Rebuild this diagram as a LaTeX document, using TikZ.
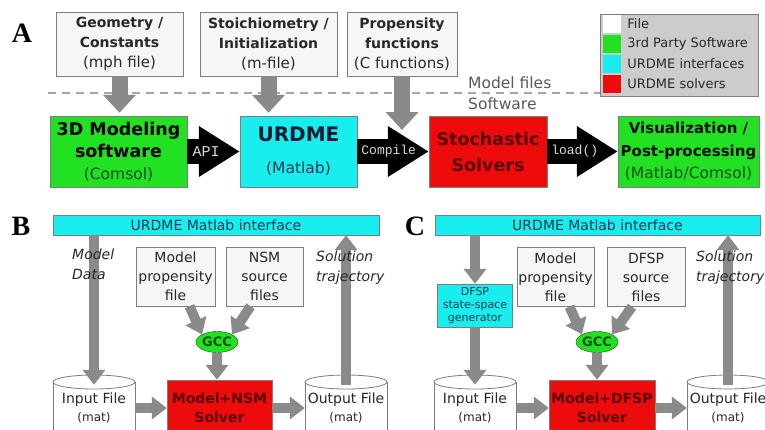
\documentclass[tikz,border=0pt]{standalone}
\usepackage{fontspec}
\setmainfont{DejaVu Sans}
\setmonofont{Liberation Mono}
\newfontfamily\panelfont{Liberation Serif}
\usepackage{tikz}
\usetikzlibrary{arrows.meta, positioning, shapes.geometric}
\usepackage{xcolor}

\definecolor{filefill}{RGB}{246,246,246}
\definecolor{boxline}{RGB}{125,125,125}
\definecolor{tpgreen}{RGB}{34,224,34}
\definecolor{urcyan}{RGB}{24,238,238}
\definecolor{urred}{RGB}{236,12,12}
\definecolor{arrgray}{RGB}{138,138,138}
\definecolor{keygray}{RGB}{204,204,204}
\definecolor{dkgreen}{RGB}{16,80,16}
\definecolor{dkteal}{RGB}{10,60,80}
\definecolor{dknavy}{RGB}{0,25,50}
\definecolor{dkred}{RGB}{90,0,0}
\definecolor{txtgray}{RGB}{40,40,40}

\newcommand{\fsz}[2]{\fontsize{#1}{#2}\selectfont}

\begin{document}
\begin{tikzpicture}[
    x=1pt, y=-1pt,
    filebox/.style={draw=boxline, fill=filefill, align=center, inner sep=0pt, text=txtgray, font=\fsz{14}{20}},
    gbox/.style={draw=boxline, fill=tpgreen, align=center, inner sep=0pt},
    cbox/.style={draw=boxline, fill=urcyan, align=center, inner sep=0pt},
    rbox/.style={draw=boxline, fill=urred, align=center, inner sep=0pt},
    fatarrow/.style={draw=arrgray, line width=16pt, -{Triangle[length=18pt,width=32pt]}},
    blkarrow/.style={draw=black, line width=25pt, -{Triangle[length=41pt,width=48pt]}},
    medarrow/.style={draw=arrgray, line width=10pt, -{Triangle[length=15pt,width=22pt]}},
    cmdtxt/.style={text=white!85!black, font=\ttfamily\fsz{13}{13}, inner sep=0pt},
    sidetxt/.style={text=black!65, font=\fsz{15.5}{18}, inner sep=0pt},
    keysq/.style={fill=#1, minimum size=18pt, inner sep=0pt},
    keytxt/.style={text=txtgray, font=\fsz{13}{16}, inner sep=0pt},
    cylline/.style={draw=boxline, fill=white, line width=0.8pt},
    cyltxt/.style={align=center, text=txtgray, font=\fsz{14}{18}, minimum width=82pt, minimum height=46pt, inner sep=0pt},
    note/.style={align=left, text=txtgray, font=\fsz{14}{20}\itshape, inner sep=0pt, anchor=north west},
    panel/.style={font=\panelfont\bfseries\fsz{28}{28}, inner sep=0pt},
    gccnode/.style={ellipse, draw=dkgreen, fill=tpgreen, minimum width=40pt, minimum height=21pt, inner sep=0pt, font=\bfseries\fsz{13}{13}, text=dkgreen}
]

\useasboundingbox (0,0) rectangle (765,429);
\clip (0,0) rectangle (765,429);

% ---------------- A ----------------
\node[panel] (labA) at (22,33) {A};

\draw[dashed, draw=black!35, line width=1.6pt, dash pattern=on 8pt off 6pt] (48,93) -- (600,93);
\node[sidetxt, anchor=west] (mfiles) at (468,83) {Model files};
\node[sidetxt, anchor=west] (swlbl) at (468,104) {Software};

% file boxes
\node[filebox, minimum width=127pt, minimum height=64pt] (geom) at (119.5,44) {\textbf{Geometry /}\\\textbf{Constants}\\{\fsz{15}{20}(mph file)}};
\node[filebox, minimum width=137pt, minimum height=64pt] (stoich) at (268.5,44) {\textbf{Stoichiometry /}\\\textbf{Initialization}\\{\fsz{15}{20}(m-file)}};
\node[filebox, minimum width=110pt, minimum height=64pt] (prop) at (402,44) {\textbf{Propensity}\\\textbf{functions}\\{\fsz{15}{20}(C functions)}};

% software boxes
\node[gbox, minimum width=137pt, minimum height=71pt, font=\fsz{17.5}{22}, text=black] (model3d) at (118.5,151.5) {\textbf{3D Modeling}\\\textbf{software}\\{\color{dkgreen}\fsz{15.5}{22}(Comsol)}};
\node[cbox, minimum width=117pt, minimum height=71pt, font=\fsz{20}{32}, text=dknavy] (urdme) at (298.5,151.5) {\textbf{URDME}\\{\color{dkteal}\fsz{15.5}{32}(Matlab)}};
\node[rbox, minimum width=118pt, minimum height=71pt, font=\bfseries\fsz{17.5}{26}, text=dkred] (solvers) at (488,151.5) {Stochastic\\Solvers};
\node[gbox, minimum width=141pt, minimum height=71pt, font=\fsz{15}{22.5}, text=black!85!dkgreen] (vis) at (688.5,151.5) {\textbf{Visualization /}\\\textbf{Post-processing}\\{\color{dkgreen}\fsz{15.5}{22.5}(Matlab/Comsol)}};

% legend
\node[draw=boxline, fill=keygray, minimum width=158pt, minimum height=82pt, inner sep=0pt] (legend) at (679,55) {};
\foreach \col/\txt [count=\i] in {white/File, tpgreen/3rd Party Software, urcyan/URDME interfaces, urred/URDME solvers}{
  \node[keysq=\col] (key\i) at (612,4+20*\i) {};
  \node[keytxt, anchor=west, right=6pt of key\i.east] (keytxt\i) {\txt};
}

% arrows
\draw[fatarrow] (geom.south) -- ([yshift=3pt]geom.south |- model3d.north);
\draw[fatarrow] (stoich.south) -- ([yshift=3pt]stoich.south |- urdme.north);
\draw[blkarrow] (model3d.east) -- (model3d.east -| urdme.west) node[pos=.36, cmdtxt, font=\ttfamily\fsz{15}{15}] {API};
\draw[blkarrow] (urdme.east) -- (urdme.east -| solvers.west) node[pos=.44, cmdtxt] {Compile};
\draw[blkarrow] (solvers.east) -- (solvers.east -| vis.west) node[pos=.39, cmdtxt] {load()};
\coordinate (cmpin) at (402,130);
\draw[fatarrow] (prop.south) -- (cmpin);

% ---------------- B ----------------
\node[panel] (labB) at (21,226) {B};
\node[cbox, minimum width=326pt, minimum height=20pt, font=\fsz{14}{16}, text=dkteal] (barB) at (216,225) {URDME Matlab interface};
\node[filebox, minimum width=79pt, minimum height=59pt, font=\fsz{14}{19}] (propB) at (175.5,276.5) {Model\\propensity\\file};
\node[filebox, minimum width=77pt, minimum height=59pt, font=\fsz{14}{19}] (nsmB) at (264.5,276.5) {NSM\\source\\files};
\node[gccnode] (gccB) at (217,342) {GCC};
\node[rbox, minimum width=105pt, minimum height=56pt, font=\bfseries\fsz{14}{19}, text=dkred] (solverB) at (219.5,408) {Model+NSM\\Solver};

% ---------------- C ----------------
\node[panel] (labC) at (415,226) {C};
\node[cbox, minimum width=325pt, minimum height=20pt, font=\fsz{14}{16}, text=dkteal] (barC) at (597.5,225) {URDME Matlab interface};
\node[cbox, minimum width=75pt, minimum height=43pt, font=\fsz{11}{13}, text=dkteal] (gen) at (475,305.5) {DFSP\\state-space\\generator};
\node[filebox, minimum width=77pt, minimum height=59pt, font=\fsz{14}{19}] (propC) at (555.5,277) {Model\\propensity\\file};
\node[filebox, minimum width=78pt, minimum height=59pt, font=\fsz{14}{19}] (dfsp) at (646,277) {DFSP\\source\\files};
\node[gccnode] (gccC) at (597,342) {GCC};
\node[rbox, minimum width=106pt, minimum height=56pt, font=\bfseries\fsz{14}{19}, text=dkred] (solverC) at (602,408) {Model+DFSP\\Solver};

% data files
\foreach \cx/\nm/\txt in {94/inB/Input File, 346/outB/Output File, 475/inC/Input File, 728/outC/Output File}{
  \filldraw[cylline] (\cx-41,382) -- (\cx-41,440) -- (\cx+41,440) -- (\cx+41,382);
  \filldraw[cylline] (\cx,382) ellipse [x radius=41pt, y radius=7pt];
  \node[cyltxt] (\nm) at (\cx,408) {\txt\\{\fsz{12}{16}(mat)}};
}

% arrows B
\draw[medarrow] (barB.south -| inB.north) -- (inB.north);
\draw[medarrow] (inB.east) -- (solverB.west);
\draw[medarrow] (solverB.east) -- (outB.west);
\draw[medarrow] (outB.north) -- (outB.north |- barB.south);
\draw[medarrow] ([xshift=14pt]propB.south) -- (gccB.north west);
\draw[medarrow] ([xshift=-14pt]nsmB.south) -- (gccB.north east);
\draw[medarrow] (gccB.south) -- (gccB.south |- solverB.north);

% arrows C
\draw[medarrow] (barC.south -| gen.north) -- (gen.north);
\draw[medarrow] (gen.south) -- (gen.south |- inC.north);
\draw[medarrow] (inC.east) -- (solverC.west);
\draw[medarrow] (solverC.east) -- (outC.west);
\draw[medarrow] (outC.north) -- (outC.north |- barC.south);
\draw[medarrow] ([xshift=14pt]propC.south) -- (gccC.north west);
\draw[medarrow] ([xshift=-14pt]dfsp.south) -- (gccC.north east);
\draw[medarrow] (gccC.south) -- (gccC.south |- solverC.north);

% notes on top of the arrows
\node[note] (mdata) at (72,249) {Model\\Data};
\node[note] (soltrajB) at (316,251) {Solution\\trajectory};
\node[note] (soltrajC) at (696,251) {Solution\\trajectory};
\end{tikzpicture}
\end{document}
